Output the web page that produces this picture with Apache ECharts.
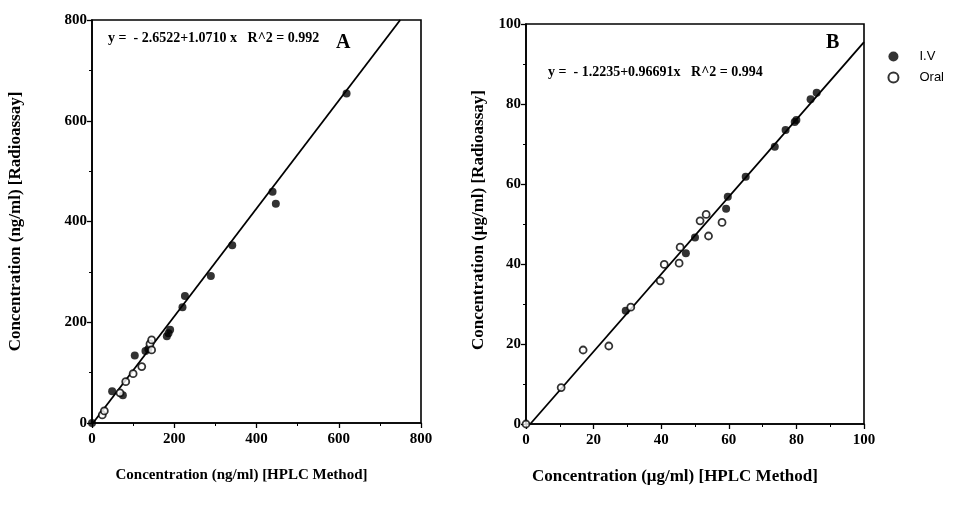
<!DOCTYPE html>
<html>
  <head>
    <meta charset="utf-8" />
    <title>Radioassay vs HPLC</title>
    <script src="https://cdn.jsdelivr.net/npm/echarts@6.0.0/dist/echarts.min.js"></script>
    <style>
      body { margin: 0; background: #fff; }
      #chart { width: 955px; height: 506px; }
    </style>
  </head>
  <body>
    <div id="chart"></div>
    <script>
      // Panel A (ng/ml): [HPLC, Radioassay]
      const ivA = [
        [0, 0], [49, 63], [75, 55], [104, 134], [130, 143], [137, 147],
        [182, 172], [186, 178], [190, 185], [220, 230], [226, 252],
        [289, 292], [341, 353], [439, 459], [447, 435], [619, 654]
      ];
      const oralA = [
        [25, 16], [30, 24], [68, 60], [82, 82], [100, 98], [121, 112],
        [141, 157], [145, 145], [145, 165]
      ];
      // Panel B (ug/ml)
      const ivB = [
        [29.5, 28.3], [47.3, 42.7], [50, 46.6], [59.2, 53.8], [59.7, 56.8],
        [65, 61.8], [73.6, 69.3], [76.8, 73.5], [79.5, 75.5], [80, 76],
        [84.2, 81.2], [86, 82.8]
      ];
      const oralB = [
        [0, 0], [10.4, 9.1], [16.9, 18.5], [24.5, 19.5], [31, 29.2],
        [39.7, 35.8], [40.9, 39.9], [45.3, 40.2], [45.6, 44.2], [51.5, 50.8],
        [53.3, 52.4], [54, 47], [58, 50.4]
      ];
      // regression: y = a + b x
      const fitA = { a: -2.6522, b: 1.0710, max: 800 };
      const fitB = { a: -1.2235, b: 0.96691, max: 100 };

      function fitLine(f) {
        const xEnd = Math.min(f.max, (f.max - f.a) / f.b);
        const x0 = Math.max(0, -f.a / f.b);
        return [[x0, f.a + f.b * x0], [xEnd, f.a + f.b * xEnd]];
      }

      const serif = '"Liberation Serif", "DejaVu Serif", serif';
      const tickLabel = { fontFamily: serif, fontWeight: 'bold', fontSize: 15, color: '#000' };
      const line = { lineStyle: { color: '#000', width: 1.6 } };

      function axis(gi, max, interval, name, gap, isY, nameSize, namePad) {
        return {
          type: 'value', gridIndex: gi, min: 0, max: max, interval: interval,
          name: name, nameLocation: 'middle', nameGap: gap,
          nameTextStyle: { fontFamily: serif, fontWeight: 'bold', fontSize: nameSize, color: '#000', padding: namePad },
          axisLine: line,
          axisTick: { show: true, length: 5, lineStyle: { color: '#000', width: 1.3 } },
          minorTick: { show: true, splitNumber: 2, length: 3, lineStyle: { color: '#000' } },
          axisLabel: Object.assign({ margin: isY ? 5 : 9 }, tickLabel),
          splitLine: { show: false }
        };
      }

      function pts(name, data, gi, filled) {
        return {
          name: name, type: 'scatter', xAxisIndex: gi, yAxisIndex: gi,
          data: data, symbol: 'circle', symbolSize: filled ? 8 : 7,
          itemStyle: filled
            ? { color: '#000' }
            : { color: '#fff', borderColor: '#000', borderWidth: 1.8 },
          z: 3
        };
      }

      const chart = echarts.init(document.getElementById('chart'));
      chart.setOption({
        animation: false,
        grid: [
          { left: 92, top: 20, width: 329, height: 403, show: true, borderColor: '#000', borderWidth: 1.6 },
          { left: 526, top: 24, width: 338, height: 400, show: true, borderColor: '#000', borderWidth: 1.6 }
        ],
        xAxis: [
          axis(0, 800, 200, 'Concentration (ng/ml) [HPLC Method]', 45, false, 15, [0, 30, 0, 0]),
          axis(1, 100, 20, 'Concentration (\u03bcg/ml) [HPLC Method]', 44, false, 17, [0, 40, 0, 0])
        ],
        yAxis: [
          axis(0, 800, 200, 'Concentration (ng/ml) [Radioassay]', 68, true, 17, 0),
          axis(1, 100, 20, 'Concentration (\u03bcg/ml) [Radioassay]', 39, true, 17, [0, 0, 0, 8])
        ],
        legend: {
          right: 6, top: 45, orient: 'vertical', itemGap: 8, itemWidth: 10, itemHeight: 10,
          data: ['I.V', 'Oral'],
          textStyle: { fontFamily: '"Liberation Sans", Arial, sans-serif', fontSize: 13, color: '#000', padding: [0, 0, 0, 16] }
        },
        graphic: [
          { type: 'text', left: 108, top: 31, style: { text: 'y =  - 2.6522+1.0710 x   R^2 = 0.992', font: 'bold 14px ' + serif, fill: '#000' } },
          { type: 'text', left: 336, top: 33, style: { text: 'A', font: 'bold 20px ' + serif, fill: '#000' } },
          { type: 'text', left: 548, top: 65, style: { text: 'y =  - 1.2235+0.96691x   R^2 = 0.994', font: 'bold 14px ' + serif, fill: '#000' } },
          { type: 'text', left: 826, top: 33, style: { text: 'B', font: 'bold 20px ' + serif, fill: '#000' } }
        ],
        series: [
          { type: 'line', xAxisIndex: 0, yAxisIndex: 0, data: fitLine(fitA), symbol: 'none', lineStyle: { color: '#000', width: 1.8 }, z: 2 },
          { type: 'line', xAxisIndex: 1, yAxisIndex: 1, data: fitLine(fitB), symbol: 'none', lineStyle: { color: '#000', width: 1.8 }, z: 2 },
          pts('I.V', ivA, 0, true),
          pts('Oral', oralA, 0, false),
          pts('I.V', ivB, 1, true),
          pts('Oral', oralB, 1, false)
        ]
      });
    </script>
  </body>
</html>
